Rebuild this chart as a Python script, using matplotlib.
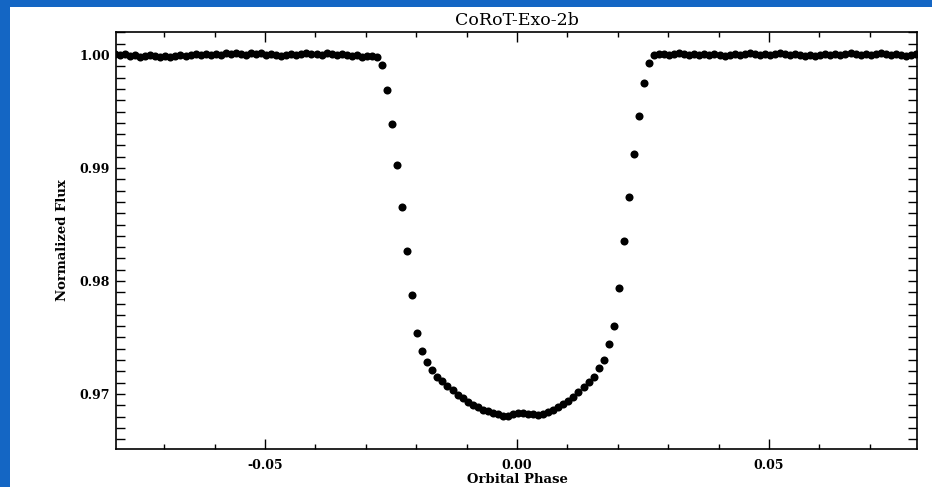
import numpy as np
import matplotlib
matplotlib.use("Agg")
import matplotlib.pyplot as plt
from matplotlib.ticker import MultipleLocator, FormatStrFormatter
from matplotlib.patches import Rectangle

# ---- data -------------------------------------------------------------
title = "CoRoT-Exo-2b"
xlabel = "Orbital Phase"
ylabel = "Normalized Flux"

# binned orbital phase: 160 bins of width 0.001
phase_first_bin = -0.0798
phase_bin_width = 0.001
n_bins = 160

flux_before = [1.0001, 1.0000, 1.0001, 0.9999, 1.0000, 0.9998, 0.9999, 1.0000, 0.9999, 0.9998,
               0.9999, 0.9998, 0.9999, 1.0000, 0.9999, 1.0000, 1.0001, 1.0000, 1.0001, 1.0000,
               1.0001, 1.0000, 1.0002, 1.0001, 1.0002, 1.0001, 1.0000, 1.0002, 1.0001, 1.0002,
               1.0000, 1.0001, 1.0000, 0.9999, 1.0000, 1.0001, 1.0000, 1.0001, 1.0002, 1.0001,
               1.0001, 1.0000, 1.0002, 1.0001, 1.0000, 1.0001, 1.0000, 0.9999, 1.0000, 0.9998,
               0.9999, 0.9999, 0.9998]

flux_transit = [0.99912, 0.99690, 0.99387, 0.99027, 0.98652, 0.98268, 0.97873, 0.97542, 0.97383, 0.97283,
                0.97212, 0.97150, 0.97115, 0.97071, 0.97035, 0.96991, 0.96965, 0.96929, 0.96903, 0.96885,
                0.96858, 0.96850, 0.96832, 0.96823, 0.96805, 0.96805, 0.96823, 0.96832, 0.96832, 0.96823,
                0.96823, 0.96814, 0.96823, 0.96841, 0.96858, 0.96885, 0.96912, 0.96938, 0.96973, 0.97018,
                0.97062, 0.97106, 0.97153, 0.97227, 0.97301, 0.97442, 0.97602, 0.97935, 0.98357, 0.98741,
                0.99124, 0.99460, 0.99750, 0.99927]

flux_after = [1.0000, 1.0001, 1.0001, 1.0000, 1.0001, 1.0002, 1.0001, 1.0000, 1.0001, 1.0000,
              1.0001, 1.0000, 1.0001, 1.0000, 0.9999, 1.0000, 1.0001, 1.0000, 1.0001, 1.0002,
              1.0001, 1.0000, 1.0001, 1.0000, 1.0001, 1.0002, 1.0001, 1.0000, 1.0001, 1.0000,
              0.9999, 1.0000, 0.9999, 1.0000, 1.0001, 1.0000, 1.0001, 1.0000, 1.0001, 1.0002,
              1.0001, 1.0000, 1.0001, 1.0000, 1.0001, 1.0002, 1.0001, 1.0000, 1.0001, 1.0000,
              0.9999, 1.0000, 1.0001]

xticks = [-0.05, 0.00, 0.05]
yticks = [0.97, 0.98, 0.99, 1.00]

phase = np.round(phase_first_bin + phase_bin_width * np.arange(n_bins), 4)
flux = np.array(flux_before + flux_transit + flux_after)

# ---- figure ------------------------------------------------------------
W, H = 932, 487
fig = plt.figure(figsize=(W / 100, H / 100), dpi=100, facecolor="white")
blue = "#1466c4"
fig.patches.append(Rectangle((0, 0), 10 / W, 1, transform=fig.transFigure,
                             facecolor=blue, edgecolor="none", zorder=-10))
fig.patches.append(Rectangle((0, 1 - 7 / H), 1, 7 / H, transform=fig.transFigure,
                             facecolor=blue, edgecolor="none", zorder=-10))

left, right, top, bottom = 116, 917, 32, 449
ax = fig.add_axes([left / W, 1 - bottom / H, (right - left) / W, (bottom - top) / H])

font = "DejaVu Serif"
ax.plot(phase, flux, "o", color="black", markersize=5.8, markeredgewidth=0, clip_on=True)

ax.set_xlim(-0.0796, 0.0794)
ax.set_ylim(0.96513, 1.00204)

ax.set_xticks(xticks)
ax.set_yticks(yticks)
ax.xaxis.set_minor_locator(MultipleLocator(0.01))
ax.yaxis.set_minor_locator(MultipleLocator(0.001))
ax.xaxis.set_major_formatter(FormatStrFormatter("%.2f"))
ax.yaxis.set_major_formatter(FormatStrFormatter("%.2f"))

ax.tick_params(axis="x", which="major", direction="in", length=7.5, width=1.0,
               top=True, bottom=True, pad=7, labelsize=9)
ax.tick_params(axis="x", which="minor", direction="in", length=3.8, width=1.0,
               top=True, bottom=True)
ax.tick_params(axis="y", which="major", direction="in", length=6.5, width=1.0,
               left=True, right=True, pad=4.5, labelsize=9)
ax.tick_params(axis="y", which="minor", direction="in", length=6.5, width=1.0,
               left=True, right=True)
for lab in ax.get_xticklabels() + ax.get_yticklabels():
    lab.set_fontfamily(font)
    lab.set_fontweight("bold")

for s in ax.spines.values():
    s.set_linewidth(1.2)

ax.set_xlabel(xlabel, fontfamily=font, fontsize=9.5, fontweight="bold", va="center")
ax.xaxis.set_label_coords(0.5006, -0.0743)
ax.set_ylabel(ylabel, fontfamily=font, fontsize=9.5, fontweight="bold", va="center")
ax.yaxis.set_label_coords(-0.0674, 0.5)
ax.text(0.5006, 1.027, title, transform=ax.transAxes, ha="center", va="center",
        fontfamily=font, fontsize=12.5)

fig.savefig("out.png", dpi=100, facecolor="white")
